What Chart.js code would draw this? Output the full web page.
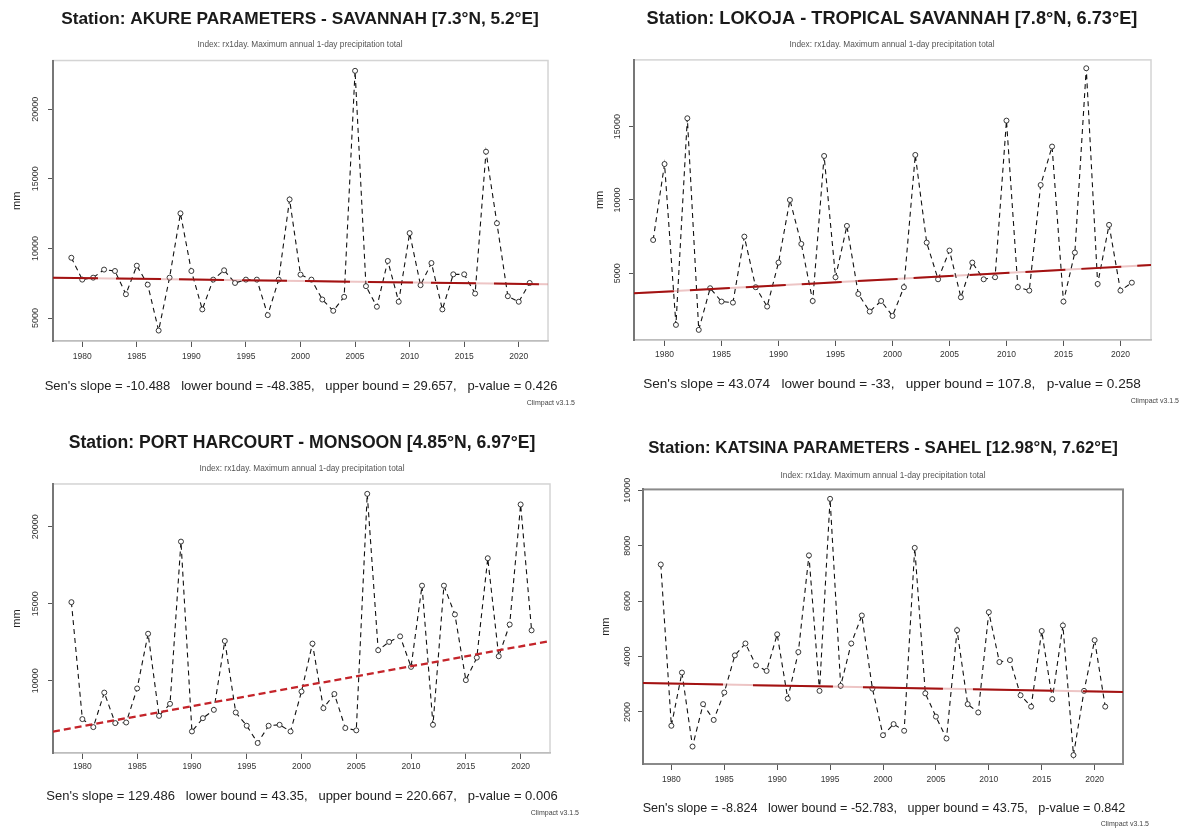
<!DOCTYPE html>
<html>
<head>
<meta charset="utf-8">
<title>Rx1day trends</title>
<script src="https://cdn.jsdelivr.net/npm/chart.js@4.4.1/dist/chart.umd.min.js"></script>
<style>
  body { margin: 0; background: #fff; font-family: "Liberation Sans", Arial, sans-serif; }
  #page { position: relative; width: 1190px; height: 830px; overflow: hidden; }
  .panel { position: absolute; width: 595px; height: 415px; }
  .panel canvas { position: absolute; left: 0; top: 0; }
  .sen { position: absolute; white-space: pre; font-size: 13px; color: #222; transform: translate(-50%, -50%); }
  .ver { position: absolute; white-space: pre; font-size: 7px; color: #444; transform: translate(-100%, -50%); }
</style>
</head>
<body>
<div id="page">
  <div class="panel" style="left:0;top:0"><canvas id="akure" width="595" height="415"></canvas>
    <div class="sen" style="left:301px;top:385px">Sen's slope = -10.488   lower bound = -48.385,   upper bound = 29.657,   p-value = 0.426</div>
    <div class="ver" style="left:575px;top:402px">Climpact v3.1.5</div>
  </div>
  <div class="panel" style="left:595px;top:0"><canvas id="lokoja" width="595" height="415"></canvas>
    <div class="sen" style="left:297px;top:383px;font-size:13.6px">Sen's slope = 43.074   lower bound = -33,   upper bound = 107.8,   p-value = 0.258</div>
    <div class="ver" style="left:584px;top:400px">Climpact v3.1.5</div>
  </div>
  <div class="panel" style="left:0;top:415px"><canvas id="portharcourt" width="595" height="415"></canvas>
    <div class="sen" style="left:302px;top:380px">Sen's slope = 129.486   lower bound = 43.35,   upper bound = 220.667,   p-value = 0.006</div>
    <div class="ver" style="left:579px;top:397px">Climpact v3.1.5</div>
  </div>
  <div class="panel" style="left:595px;top:415px"><canvas id="katsina" width="595" height="415"></canvas>
    <div class="sen" style="left:289px;top:393px;font-size:12.6px">Sen's slope = -8.824   lower bound = -52.783,   upper bound = 43.75,   p-value = 0.842</div>
    <div class="ver" style="left:554px;top:408px">Climpact v3.1.5</div>
  </div>
</div>
<script>
"use strict";

const years = [1979, 1980, 1981, 1982, 1983, 1984, 1985, 1986, 1987, 1988,
  1989, 1990, 1991, 1992, 1993, 1994, 1995, 1996, 1997, 1998,
  1999, 2000, 2001, 2002, 2003, 2004, 2005, 2006, 2007, 2008,
  2009, 2010, 2011, 2012, 2013, 2014, 2015, 2016, 2017, 2018,
  2019, 2020, 2021];
const yearTicks = [1980, 1985, 1990, 1995, 2000, 2005, 2010, 2015, 2020];
const yearRange = [1977.32, 2022.68];

const akureValues = [9330, 7760, 7900, 8480, 8380, 6710, 8760, 7400, 4100, 7900,
  12520, 8380, 5620, 7760, 8430, 7520, 7760, 7760, 5210, 7760,
  13520, 8120, 7760, 6330, 5520, 6520, 22760, 7290, 5810, 9100,
  6170, 11100, 7360, 8950, 5620, 8140, 8140, 6760, 16950, 11810,
  6570, 6170, 7520];
const akureTrend = [7900, 7420];
const akureTicks = [5000, 10000, 15000, 20000];

const lokojaValues = [7270, 12450, 1480, 15570, 1140, 3980, 3070, 3000, 7500, 4050,
  2730, 5730, 10000, 7000, 3110, 13000, 4730, 8230, 3590, 2390,
  3110, 2090, 4050, 13070, 7090, 4590, 6550, 3360, 5730, 4590,
  4730, 15410, 4050, 3820, 11020, 13640, 3070, 6410, 18980, 4270,
  8300, 3820, 4360];
const lokojaTrend = [3630, 5560];
const lokojaTicks = [5000, 10000, 15000];

const portHarcourtValues = [15100, 7510, 6990, 9230, 7250, 7290, 9500, 13050, 7720, 8500,
  19030, 6710, 7570, 8110, 12580, 7940, 7080, 5960, 7080, 7140,
  6710, 9300, 12410, 8220, 9140, 6930, 6780, 22130, 11980, 12520,
  12880, 10900, 16170, 7140, 16170, 14300, 10040, 11500, 17950, 11590,
  13650, 21440, 13270];
const portHarcourtTrend = [6700, 12580];
const portHarcourtTicks = [10000, 15000, 20000];

const katsinaValues = [7320, 1500, 3420, 750, 2280, 1710, 2700, 4040, 4470, 3680,
  3480, 4800, 2480, 4160, 7650, 2760, 9690, 2940, 4470, 5480,
  2840, 1160, 1560, 1320, 7920, 2670, 1830, 1040, 4950, 2280,
  1980, 5600, 3800, 3870, 2600, 2190, 4920, 2460, 5120, 440,
  2760, 4590, 2190];
const katsinaTrend = [3040, 2720];
const katsinaTicks = [2000, 4000, 6000, 8000, 10000];

const subtitleText = "Index: rx1day. Maximum annual 1-day precipitation total";
const fontFamily = "'Liberation Sans', Arial, Helvetica, sans-serif";

// box round the plot + vertical y tick labels like R draws them
const rStyleAxes = {
  id: "rStyleAxes",
  beforeDraw(chart, args, opts) {
    const { ctx, chartArea } = chart;
    ctx.save();
    ctx.strokeStyle = opts.boxColor;
    ctx.lineWidth = opts.boxWidth;
    ctx.strokeRect(chartArea.left, chartArea.top, chartArea.width, chartArea.height);
    ctx.restore();
  },
  afterDraw(chart, args, opts) {
    const { ctx } = chart;
    const yScale = chart.scales.y;
    ctx.save();
    ctx.font = "9px " + fontFamily;
    ctx.fillStyle = "#333";
    ctx.textAlign = "center";
    ctx.textBaseline = "middle";
    yScale.ticks.forEach((t) => {
      const py = yScale.getPixelForValue(t.value);
      ctx.save();
      ctx.translate(opts.labelX, py);
      ctx.rotate(-Math.PI / 2);
      ctx.fillText(String(t.value), 0, 0);
      ctx.restore();
    });
    ctx.restore();
  },
};

const makeStationChart = (id, cfg) => {
  const points = years.map((yr, i) => ({ x: yr, y: cfg.values[i] }));
  const trendPoints = [
    { x: yearRange[0], y: cfg.trend[0] },
    { x: yearRange[1], y: cfg.trend[1] },
  ];
  const datasets = [];
  if (cfg.dashedTrend) {
    datasets.push({
      data: trendPoints,
      borderColor: "#c4242a",
      borderWidth: 2.3,
      borderDash: [7, 4],
      pointRadius: 0,
      order: 0,
    });
  } else {
    datasets.push({
      data: trendPoints,
      borderColor: "#a31212",
      borderWidth: 2,
      borderDash: cfg.trendDash,
      pointRadius: 0,
      order: 0,
    });
    datasets.push({
      data: trendPoints,
      borderColor: "rgba(210, 110, 110, 0.4)",
      borderWidth: 2,
      pointRadius: 0,
      order: 1,
    });
  }
  datasets.push({
    data: points,
    borderColor: "#111",
    borderWidth: 1.1,
    borderDash: [5, 4],
    pointRadius: 2.5,
    pointBorderWidth: 0.9,
    pointBorderColor: "#222",
    pointBackgroundColor: "#fff",
    tension: 0,
    order: 2,
  });

  return new Chart(document.getElementById(id), {
    type: "line",
    data: { datasets },
    plugins: [rStyleAxes],
    options: {
      responsive: false,
      animation: false,
      devicePixelRatio: 1,
      layout: {
        padding: { left: cfg.padLeft, top: 0, right: cfg.padRight, bottom: cfg.padBottom },
      },
      plugins: {
        legend: { display: false },
        tooltip: { enabled: false },
        title: {
          display: true,
          text: cfg.title,
          color: "#1a1a1a",
          font: { family: fontFamily, size: cfg.titleSize, weight: "bold" },
          padding: { top: cfg.titleTop, bottom: 5 },
        },
        subtitle: {
          display: true,
          text: subtitleText,
          color: "#555",
          font: { family: fontFamily, size: 8.3 },
          padding: { top: cfg.subGap, bottom: cfg.subBottom },
        },
        rStyleAxes: { labelX: cfg.labelX, boxColor: cfg.boxColor, boxWidth: cfg.boxWidth },
      },
      scales: {
        x: {
          type: "linear",
          min: yearRange[0],
          max: yearRange[1],
          afterBuildTicks: (scale) => {
            scale.ticks = yearTicks.map((v) => ({ value: v }));
          },
          afterFit: (scale) => {
            scale.height = 30;
          },
          ticks: {
            color: "#333",
            font: { family: fontFamily, size: 8.5 },
            padding: cfg.xLabelPad,
            maxRotation: 0,
            callback: (v) => String(v),
          },
          grid: { drawOnChartArea: false, drawTicks: true, tickLength: 6, color: "#555" },
          border: { display: true, color: cfg.xBorder, width: 1.5 },
        },
        y: {
          type: "linear",
          min: cfg.yRange[0],
          max: cfg.yRange[1],
          afterBuildTicks: (scale) => {
            scale.ticks = cfg.ticks.map((v) => ({ value: v }));
          },
          afterFit: (scale) => {
            scale.width = cfg.yWidth;
          },
          ticks: { display: false },
          grid: { drawOnChartArea: false, drawTicks: true, tickLength: 5, color: "#555" },
          border: { display: true, color: "#777", width: 2 },
          title: {
            display: true,
            text: "mm",
            color: "#222",
            font: { family: fontFamily, size: 11 },
            padding: { top: cfg.mmPad, bottom: 0 },
          },
        },
        // empty right margin so the titles centre where R put them
        spacer: {
          type: "linear",
          position: "right",
          display: true,
          afterFit: (scale) => {
            scale.width = cfg.rightWidth;
          },
          ticks: { display: false },
          grid: { display: false },
          border: { display: false },
        },
      },
    },
  });
};

makeStationChart("akure", {
  title: "Station: AKURE PARAMETERS - SAVANNAH [7.3°N, 5.2°E]",
  titleSize: 17.3,
  values: akureValues,
  trend: akureTrend,
  ticks: akureTicks,
  yRange: [3350, 23500],
  trendDash: [45, 18],
  padLeft: 5, padRight: 0, yWidth: 48, rightWidth: 47, padBottom: 44,
  titleTop: 8.6, subGap: 5.3, subBottom: 10.9,
  labelX: 36, mmPad: 5.4, xLabelPad: 4.6,
  boxColor: "#d4d4d4", boxWidth: 1.5, xBorder: "#bdbdbd",
});

makeStationChart("lokoja", {
  title: "Station: LOKOJA - TROPICAL SAVANNAH [7.8°N, 6.73°E]",
  titleSize: 18.2,
  values: lokojaValues,
  trend: lokojaTrend,
  ticks: lokojaTicks,
  yRange: [450, 19550],
  trendDash: [40, 16],
  padLeft: 0, padRight: 1, yWidth: 39, rightWidth: 38, padBottom: 45,
  titleTop: 8.3, subGap: 4.8, subBottom: 10,
  labelX: 23, mmPad: -1.6, xLabelPad: 3.6,
  boxColor: "#d4d4d4", boxWidth: 1.5, xBorder: "#bdbdbd",
});

makeStationChart("portharcourt", {
  title: "Station: PORT HARCOURT - MONSOON [4.85°N, 6.97°E]",
  titleSize: 17.6,
  values: portHarcourtValues,
  trend: portHarcourtTrend,
  ticks: portHarcourtTicks,
  yRange: [5310, 22770],
  dashedTrend: true,
  padLeft: 9, padRight: 0, yWidth: 44, rightWidth: 45, padBottom: 47,
  titleTop: 17.6, subGap: 5.3, subBottom: 10,
  labelX: 36, mmPad: 1.4, xLabelPad: 2.6,
  boxColor: "#d4d4d4", boxWidth: 1.5, xBorder: "#bdbdbd",
});

makeStationChart("katsina", {
  title: "Station: KATSINA PARAMETERS - SAHEL [12.98°N, 7.62°E]",
  titleSize: 16.8,
  values: katsinaValues,
  trend: katsinaTrend,
  ticks: katsinaTicks,
  yRange: [120, 10030],
  trendDash: [80, 30],
  padLeft: 0, padRight: 19, yWidth: 48, rightWidth: 48, padBottom: 36,
  titleTop: 23, subGap: 7.3, subBottom: 9,
  labelX: 33, mmPad: 4.4, xLabelPad: 4.6,
  boxColor: "#8a8a8a", boxWidth: 2, xBorder: "#8a8a8a",
});
</script>
</body>
</html>
